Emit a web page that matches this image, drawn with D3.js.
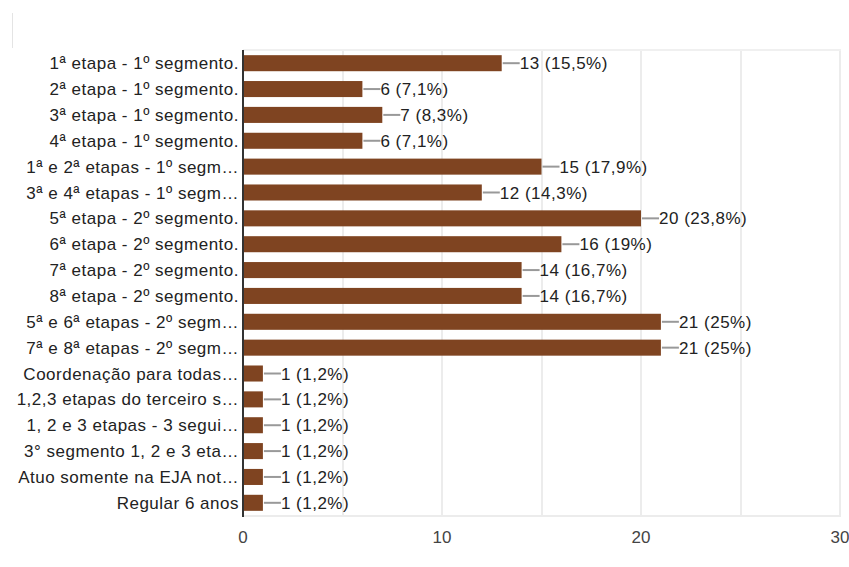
<!DOCTYPE html>
<html>
<head>
<meta charset="utf-8">
<script src="https://cdn.jsdelivr.net/npm/d3@7"></script>
<style>
  body { margin: 0; background: #fff; }
  svg { display: block; font-family: "Liberation Sans", Arial, sans-serif; }
</style>
</head>
<body>
<svg width="849" height="567"></svg>
<script>
// categories (already truncated as shown in the chart)
var labels = [
    "1ª etapa - 1º segmento.",
    "2ª etapa - 1º segmento.",
    "3ª etapa - 1º segmento.",
    "4ª etapa - 1º segmento.",
    "1ª e 2ª etapas - 1º segm…",
    "3ª e 4ª etapas - 1º segm…",
    "5ª etapa - 2º segmento.",
    "6ª etapa - 2º segmento.",
    "7ª etapa - 2º segmento.",
    "8ª etapa - 2º segmento.",
    "5ª e 6ª etapas - 2º segm…",
    "7ª e 8ª etapas - 2º segm…",
    "Coordenação para todas…",
    "1,2,3 etapas do terceiro s…",
    "1, 2 e 3 etapas - 3 segui…",
    "3° segmento 1, 2 e 3 eta…",
    "Atuo somente na EJA not…",
    "Regular 6 anos"
];
var counts = [13, 6, 7, 6, 15, 12, 20, 16, 14, 14, 21, 21, 1, 1, 1, 1, 1, 1];
var percents = ["15,5%", "7,1%", "8,3%", "7,1%", "17,9%", "14,3%", "23,8%", "19%",
                "16,7%", "16,7%", "25%", "25%", "1,2%", "1,2%", "1,2%", "1,2%", "1,2%", "1,2%"];
var ticks = [0, 10, 20, 30];
var grid = [5, 10, 15, 20, 25, 30];

var barColor = "#7f4421";

var svg = d3.select("svg");
var plotLeft = 243, plotRight = 840, plotTop = 50, plotBottom = 516;

var x = d3.scaleLinear().domain([0, 30]).range([plotLeft, plotRight]);
var y = d3.scaleBand()
    .domain(d3.range(labels.length))
    .range([plotTop, plotBottom])
    .paddingInner(0.38)
    .paddingOuter(0.2);

// faint card edge top-left
svg.append("line")
    .attr("x1", 12.5).attr("x2", 12.5)
    .attr("y1", 13).attr("y2", 48)
    .attr("stroke", "#e4e4e4");

// gridlines
svg.selectAll(".grid")
    .data(grid)
    .enter().append("line")
    .attr("class", "grid")
    .attr("x1", function(d) { return Math.round(x(d)); })
    .attr("x2", function(d) { return Math.round(x(d)); })
    .attr("y1", plotTop).attr("y2", plotBottom)
    .attr("stroke", "#ececec")
    .attr("stroke-width", 2);

svg.append("line")
    .attr("x1", plotLeft).attr("x2", plotRight + 1)
    .attr("y1", plotTop).attr("y2", plotTop)
    .attr("stroke", "#f0f0f0").attr("stroke-width", 2);
svg.append("line")
    .attr("x1", plotLeft).attr("x2", plotRight + 1)
    .attr("y1", plotBottom).attr("y2", plotBottom)
    .attr("stroke", "#ececec").attr("stroke-width", 2);

// bars
svg.selectAll(".bar")
    .data(counts)
    .enter().append("rect")
    .attr("class", "bar")
    .attr("x", x(0))
    .attr("y", function(d, i) { return y(i); })
    .attr("width", function(d) { return x(d) - x(0); })
    .attr("height", y.bandwidth())
    .attr("fill", barColor);

// value annotations with leader line
var ann = svg.selectAll(".ann")
    .data(counts)
    .enter().append("g")
    .attr("class", "ann")
    .attr("transform", function(d, i) {
        return "translate(" + x(d) + "," + (y(i) + y.bandwidth() / 2) + ")";
    });
ann.append("line")
    .attr("x1", 1).attr("x2", 18)
    .attr("y1", 0).attr("y2", 0)
    .attr("stroke", "#999").attr("stroke-width", 2);
ann.append("text")
    .attr("x", 18)
    .attr("dy", "0.36em")
    .attr("font-size", 17)
    .attr("letter-spacing", 0.5)
    .attr("fill", "#222")
    .text(function(d, i) { return d + " (" + percents[i] + ")"; });

// category labels
svg.selectAll(".cat")
    .data(labels)
    .enter().append("text")
    .attr("class", "cat")
    .attr("x", plotLeft - 4)
    .attr("y", function(d, i) { return y(i) + y.bandwidth() / 2; })
    .attr("dy", "0.36em")
    .attr("text-anchor", "end")
    .attr("font-size", 17)
    .attr("letter-spacing", 0.5)
    .attr("fill", "#222")
    .text(function(d) { return d; });

// baseline axis
svg.append("line")
    .attr("x1", plotLeft).attr("x2", plotLeft)
    .attr("y1", plotTop).attr("y2", plotBottom + 1)
    .attr("stroke", "#333").attr("stroke-width", 2);

// x tick labels
svg.selectAll(".tick")
    .data(ticks)
    .enter().append("text")
    .attr("class", "tick")
    .attr("x", function(d) { return x(d); })
    .attr("y", 543)
    .attr("text-anchor", "middle")
    .attr("font-size", 17)
    .attr("fill", "#444")
    .text(function(d) { return d; });
</script>
</body>
</html>
